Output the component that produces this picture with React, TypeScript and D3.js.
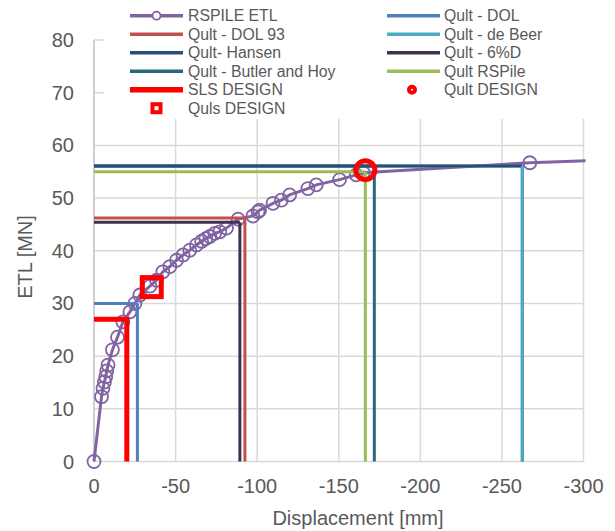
import React from 'react';
import * as d3 from 'd3';

// RSPile load-displacement curve
const etlDisp = [0, -4.6, -5.5, -6.4, -7.2, -7.8, -8.6, -11.3, -14.4, -17.7, -22.0, -25.1, -28.1, -34.3, -38.3, -42.2, -46.5, -50.6, -54.6, -58.7, -62.8, -66.0, -68.5, -71.0, -74.0, -77.1, -81.2, -88.3, -97.4, -100.5, -101.5, -109.7, -114.8, -119.9, -131.1, -136.2, -150.5, -160.7, -165.0, -267.1, -340];
const etlLoad = [0, 12.3, 13.9, 15.1, 16.1, 17.2, 18.3, 21.2, 23.6, 26.5, 28.4, 30.0, 31.6, 33.3, 34.4, 36.0, 37.0, 38.2, 39.2, 40.1, 41.1, 41.8, 42.3, 42.7, 43.3, 43.6, 44.3, 46.0, 46.6, 47.4, 47.7, 49.0, 49.6, 50.6, 51.8, 52.5, 53.5, 54.4, 54.8, 56.7, 57.5];

// ultimate capacity by method
const methodNames = ['Qult - DOL', 'Qult - DOL 93', 'Qult - de Beer', 'Qult- Hansen', 'Qult - 6%D', 'Qult - Butler and Hoy', 'Qult RSPile'];
const methodLoad = [30.0, 46.2, 56.1, 56.1, 45.4, 56.1, 55.0];
const methodDisp = [-26.6, -92.5, -262.5, -262.5, -89.4, -171.8, -166.3];
const methodColor = ['#4f81bd', '#c0504d', '#4bacc6', '#2c4d75', '#403151', '#276a7a', '#9bbb59'];
const hOrder = [0, 1, 2, 5, 3, 4, 6];
const vOrder = [0, 1, 3, 2, 4, 5, 6];

const slsLoad = 27.0;
const slsDisp = -20.1;
const qultDesign = { disp: -166.3, load: 55.3 };
const qulsDesign = { disp: -35.4, load: 33.1 };

const xTicks = [0, -50, -100, -150, -200, -250, -300];
const yTicks = [0, 10, 20, 30, 40, 50, 60, 70, 80];

const FONT = 'Liberation Sans, Arial, sans-serif';
const GREY = '#595959';

const x = d3.scaleLinear().domain([0, -300]).range([94, 583.5]);
const y = d3.scaleLinear().domain([0, 80]).range([461.5, 40]);

export default function App() {
  const line = d3.line<number>().x((d, i) => x(etlDisp[i])).y((d, i) => y(etlLoad[i]));

  const legendItems = [
    { name: 'RSPILE ETL', kind: 'etl', color: '#8064a2' },
    { name: methodNames[0], kind: 'line', color: methodColor[0] },
    { name: methodNames[1], kind: 'line', color: methodColor[1] },
    { name: methodNames[2], kind: 'line', color: methodColor[2] },
    { name: methodNames[3], kind: 'line', color: methodColor[3] },
    { name: methodNames[4], kind: 'line', color: methodColor[4] },
    { name: methodNames[5], kind: 'line', color: methodColor[5] },
    { name: methodNames[6], kind: 'line', color: methodColor[6] },
    { name: 'SLS DESIGN', kind: 'sls', color: '#ff0000' },
    { name: 'Qult DESIGN', kind: 'circle', color: '#ff0000' },
    { name: 'Quls DESIGN', kind: 'square', color: '#ff0000' },
  ];

  return (
    <div style={{ position: 'fixed', left: 0, top: 0 }}>
      <svg width={615} height={531} style={{ display: 'block', background: '#fff' }}>
        <defs>
          <clipPath id="plot">
            <rect x={x(0) - 12} y={y(80) - 2} width={x(-300) - x(0) + 14} height={y(0) - y(80) + 14} />
          </clipPath>
        </defs>
        {/* grid */}
        {yTicks.map(t => (
          <line key={'gy' + t} x1={x(0)} x2={x(-300)} y1={y(t)} y2={y(t)} stroke="#d9d9d9" strokeWidth={1.5} />
        ))}
        {xTicks.map(t => (
          <line key={'gx' + t} x1={x(t)} x2={x(t)} y1={y(0)} y2={y(80)} stroke="#d9d9d9" strokeWidth={1.5} />
        ))}
        <line x1={x(0)} x2={x(0)} y1={y(0)} y2={y(80)} stroke="#c8c8c8" strokeWidth={1.5} />

        {/* ETL curve */}
        <g clipPath="url(#plot)">
          <path d={line(etlLoad) || ''} fill="none" stroke="#8064a2" strokeWidth={3} />
          {etlLoad.map((v, i) => (
            <circle key={i} cx={x(etlDisp[i])} cy={y(v)} r={6.5} fill="none" stroke="#8064a2" strokeWidth={1.8} />
          ))}
        </g>

        {/* method lines */}
        {hOrder.map(i => (
          <line key={'h' + i} x1={x(0)} x2={x(methodDisp[i])} y1={y(methodLoad[i])} y2={y(methodLoad[i])}
            stroke={methodColor[i]} strokeWidth={3} />
        ))}
        {vOrder.map(i => (
          <line key={'v' + i} x1={x(methodDisp[i])} x2={x(methodDisp[i])} y1={y(methodLoad[i])} y2={y(0)}
            stroke={methodColor[i]} strokeWidth={3} />
        ))}

        {/* SLS */}
        <polyline points={[[0, slsLoad], [slsDisp, slsLoad], [slsDisp, 0]].map(p => `${x(p[0])},${y(p[1])}`).join(' ')}
          fill="none" stroke="#ff0000" strokeWidth={5} />

        {/* design points */}
        <circle cx={x(qultDesign.disp)} cy={y(qultDesign.load)} r={9.5} fill="none" stroke="#ff0000" strokeWidth={5} />
        <rect x={x(qulsDesign.disp) - 9.5} y={y(qulsDesign.load) - 9.5} width={19} height={19} fill="none" stroke="#ff0000" strokeWidth={5} />

        {/* tick labels */}
        {yTicks.map(t => (
          <text key={'ly' + t} x={74} y={y(t)} dy="0.35em" textAnchor="end" fontFamily={FONT} fontSize={20} fill={GREY}>{t}</text>
        ))}
        {xTicks.map(t => (
          <text key={'lx' + t} x={x(t)} y={493} textAnchor="middle" fontFamily={FONT} fontSize={20} fill={GREY}>{t}</text>
        ))}
        <text x={358} y={525} textAnchor="middle" fontFamily={FONT} fontSize={20} fill={GREY}>Displacement [mm]</text>
        <text transform="translate(32,257) rotate(-90)" textAnchor="middle" fontFamily={FONT} fontSize={20} fill={GREY}>ETL [MN]</text>

        {/* legend */}
        <rect x={104} y={0} width={490} height={119} fill="#fff" />
        {legendItems.map((d, i) => {
          const col = i % 2;
          const row = Math.floor(i / 2);
          const cy = 15.7 + row * 18.5;
          const lx = col === 0 ? 130 : 387;
          const tx = col === 0 ? 188 : 444;
          const mid = lx + 26.5;
          return (
            <g key={d.name}>
              {(d.kind === 'line' || d.kind === 'etl') && (
                <line x1={lx} x2={lx + 53} y1={cy} y2={cy} stroke={d.color} strokeWidth={3.5} />
              )}
              {d.kind === 'sls' && <line x1={lx} x2={lx + 53} y1={cy} y2={cy} stroke={d.color} strokeWidth={5.5} />}
              {d.kind === 'etl' && <circle cx={mid} cy={cy} r={4} fill="#fff" stroke={d.color} strokeWidth={1.8} />}
              {d.kind === 'circle' && <circle cx={mid - 1.5} cy={cy} r={3} fill="#fff" stroke={d.color} strokeWidth={4} />}
              {d.kind === 'square' && <rect x={mid - 4} y={cy - 4} width={8} height={8} fill="#fff" stroke={d.color} strokeWidth={4} />}
              <text x={tx} y={cy} dy="0.36em" fontFamily={FONT} fontSize={15.8} fill={GREY}>{d.name}</text>
            </g>
          );
        })}
      </svg>
    </div>
  );
}
